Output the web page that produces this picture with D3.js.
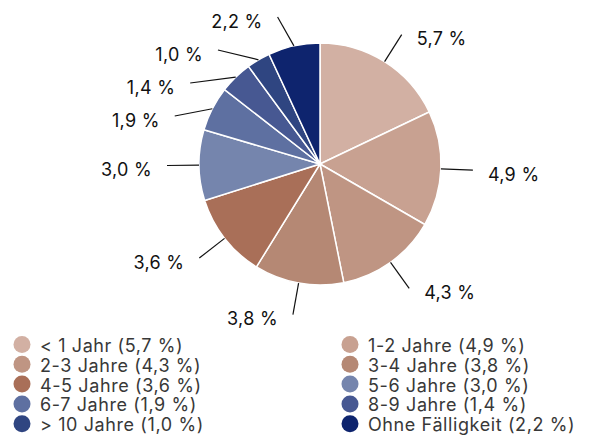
<!DOCTYPE html>
<html>
<head>
<meta charset="utf-8">
<script src="https://cdn.jsdelivr.net/npm/d3@7"></script>
<style>
  body { margin: 0; background: #fff; }
  svg { display: block; font-family: "Inter", "Lato", sans-serif; }
</style>
</head>
<body>
<div id="chart"></div>
<script>
// data
const categories = ["< 1 Jahr", "1-2 Jahre", "2-3 Jahre", "3-4 Jahre", "4-5 Jahre",
                    "5-6 Jahre", "6-7 Jahre", "8-9 Jahre", "> 10 Jahre", "Ohne Fälligkeit"];
const values = [5.7, 4.9, 4.3, 3.8, 3.6, 3.0, 1.9, 1.4, 1.0, 2.2];
const colors = ["#d2b0a3", "#c8a191", "#bf9583", "#b58874", "#a96f58",
                "#7585ad", "#5e70a1", "#475892", "#2f4581", "#0e246e"];

const width = 599, height = 440;
const cx = 320, cy = 164, radius = 121, labelR = 153;

const fmt = v => v.toFixed(1).replace(".", ",") + " %";

const svg = d3.select("#chart").append("svg")
    .attr("width", width)
    .attr("height", height);

const pie = d3.pie().sort(null).value(d => d);
const arcs = pie(values);
const arc = d3.arc().innerRadius(0).outerRadius(radius);

const g = svg.append("g").attr("transform", "translate(" + cx + "," + cy + ")");

g.selectAll("path.slice")
  .data(arcs)
  .enter()
  .append("path")
  .attr("class", "slice")
  .attr("d", arc)
  .attr("fill", (d, i) => colors[i])
  .attr("stroke", "#fff")
  .attr("stroke-width", 1.5)
  .attr("stroke-linejoin", "round");

// label positions, pushed apart vertically like highcharts does
let labels = arcs.map((d, i) => {
  const a = (d.startAngle + d.endAngle) / 2;
  return {
    i: i,
    a: a,
    side: Math.sin(a) >= 0 ? 1 : -1,
    x0: Math.sin(a) * radius, y0: -Math.cos(a) * radius,
    y: -Math.cos(a) * labelR
  };
});
const minGap = 33, topY = 17 - cy;
[1, -1].forEach(side => {
  const list = labels.filter(l => l.side === side).sort((a, b) => a.y - b.y);
  let prev = -Infinity;
  list.forEach((l, k) => {
    let y = Math.max(l.y, k === 0 ? topY : prev + minGap);
    l.y = y;
    prev = y;
  });
});
labels.forEach(l => {
  l.x = l.side * Math.sqrt(Math.max(0, labelR * labelR - l.y * l.y));
});

g.selectAll("line.conn")
  .data(labels)
  .enter()
  .append("line")
  .attr("class", "conn")
  .attr("x1", d => d.x0)
  .attr("y1", d => d.y0)
  .attr("x2", d => d.x)
  .attr("y2", d => d.y)
  .attr("stroke", "#111")
  .attr("stroke-width", 1.2);

g.selectAll("text.lbl")
  .data(labels)
  .enter()
  .append("text")
  .attr("class", "lbl")
  .attr("x", d => d.x + d.side * 15)
  .attr("y", d => d.y + 4)
  .attr("dominant-baseline", "central")
  .attr("text-anchor", d => d.side > 0 ? "start" : "end")
  .attr("font-size", 18)
  .attr("letter-spacing", 0.3)
  .attr("fill", "#111")
  .text(d => fmt(values[d.i]));

// legend, two columns
const legend = svg.append("g");
const colX = [22, 350], rowY0 = 344.5, rowStep = 19.8;
const items = legend.selectAll("g.item")
  .data(categories)
  .enter()
  .append("g")
  .attr("class", "item")
  .attr("transform", (d, i) => "translate(" + colX[i % 2] + "," + (rowY0 + Math.floor(i / 2) * rowStep) + ")");

items.append("circle")
  .attr("r", 8.5)
  .attr("fill", (d, i) => colors[i]);

items.append("text")
  .attr("x", 18)
  .attr("y", 1)
  .attr("dominant-baseline", "central")
  .attr("font-size", 18)
  .attr("letter-spacing", 0.6)
  .attr("fill", "#383838")
  .text((d, i) => d + " (" + fmt(values[i]) + ")");
</script>
</body>
</html>
